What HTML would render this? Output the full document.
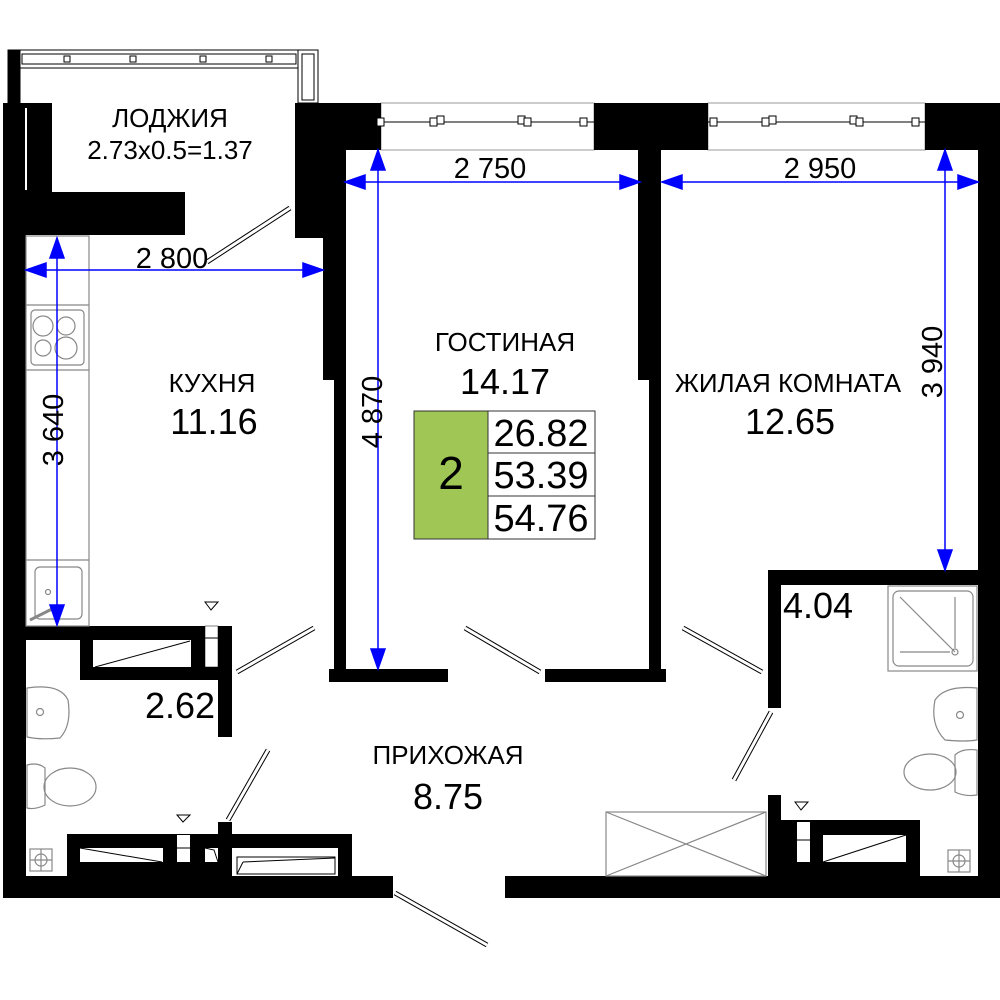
<!DOCTYPE html>
<html><head><meta charset="utf-8"><style>
html,body{margin:0;padding:0;background:#fff;}
svg{display:block;}
text{font-family:"Liberation Sans",sans-serif;fill:#000;}
</style></head><body>
<svg width="1000" height="1000" viewBox="0 0 1000 1000" xmlns="http://www.w3.org/2000/svg">
<rect width="1000" height="1000" fill="#fff"/>
<g fill="#fff" stroke="#000" stroke-width="1">
<rect x="8" y="50" width="12" height="54" fill="#000"/>
<rect x="20" y="50" width="298" height="18"/>
<rect x="22" y="54" width="274" height="10"/>
<rect x="298" y="50" width="20" height="53"/>
<rect x="302" y="54" width="12" height="46"/>
</g>
<g fill="#fff" stroke="#000" stroke-width="1">
<rect x="64" y="56" width="6" height="6"/><rect x="130" y="56" width="6" height="6"/><rect x="200" y="56" width="6" height="6"/><rect x="266" y="56" width="6" height="6"/>
</g>
<rect x="381" y="103" width="213" height="47" fill="#fff" stroke="#999" stroke-width="1"/>
<rect x="708" y="103" width="217" height="47" fill="#fff" stroke="#999" stroke-width="1"/>
<g fill="#000">
<rect x="3" y="103" width="49" height="92"/>
<rect x="3" y="192" width="182" height="43"/>
<rect x="3" y="192" width="23" height="706"/>
<rect x="295" y="103" width="86" height="47"/>
<rect x="594" y="103" width="114" height="47"/>
<rect x="925" y="103" width="75" height="47"/>
<rect x="295" y="103" width="51" height="135"/>
<rect x="323" y="103" width="23" height="277"/>
<rect x="334" y="103" width="12" height="579"/>
<rect x="329" y="669" width="119" height="13"/>
<rect x="545" y="669" width="121" height="13"/>
<rect x="638" y="150" width="23" height="230"/>
<rect x="649" y="150" width="12" height="532"/>
<rect x="978" y="103" width="22" height="795"/>
<rect x="768" y="570" width="220" height="15"/>
<rect x="768" y="570" width="13" height="138"/>
<rect x="768" y="795" width="13" height="100"/>
<rect x="505" y="876" width="495" height="22"/>
<rect x="781" y="820" width="139" height="60"/>
<rect x="3" y="876" width="390" height="22"/>
<rect x="67" y="834" width="285" height="45"/>
<rect x="218" y="822" width="14" height="14"/>
<rect x="25" y="626" width="207" height="14"/>
<rect x="80" y="626" width="152" height="54"/>
<rect x="218" y="626" width="14" height="111"/>
</g>
<g fill="#fff">
<rect x="25" y="108" width="2" height="82"/>
<rect x="93" y="640" width="98" height="27"/>
<rect x="205" y="626" width="13" height="41" stroke="#000" stroke-width="0.5"/>
<line x1="205" y1="638" x2="218" y2="638" stroke="#000"/>
<rect x="80" y="848" width="83" height="14"/>
<rect x="177" y="835" width="13" height="27"/>
<rect x="205" y="848" width="13" height="14"/>
<rect x="232" y="848" width="106" height="28"/>
<rect x="797" y="822" width="13" height="40"/>
<rect x="823" y="835" width="83" height="27"/>
</g>
<g stroke="#000" stroke-width="1" fill="none">
<line x1="95" y1="667" x2="190" y2="641"/>
<line x1="80" y1="848" x2="162" y2="862"/>
<line x1="177" y1="848" x2="190" y2="848"/>
<path d="M205 848 L214 850 L218 862"/>
<rect x="237" y="857" width="98" height="17"/>
<line x1="237" y1="874" x2="243" y2="862"/><line x1="243" y1="862" x2="335" y2="858"/>
<line x1="797" y1="840" x2="810" y2="840"/>
<line x1="823" y1="862" x2="906" y2="835"/>
<path d="M205 602 L218 602 L211 610 Z"/>
<path d="M177 815 L190 815 L183 822 Z"/>
<path d="M795 802 L808 802 L801 810 Z"/>
</g>
<g stroke="#000" stroke-width="1" fill="#fff">
<line x1="377" y1="122" x2="596" y2="122"/>
<line x1="707" y1="122" x2="927" y2="122"/>
<rect x="377" y="118" width="7" height="8"/><rect x="430" y="118" width="7" height="8"/><rect x="437" y="116" width="7" height="8"/><rect x="518" y="116" width="7" height="8"/><rect x="524" y="118" width="7" height="8"/><rect x="580" y="118" width="7" height="8"/>
<rect x="710" y="118" width="7" height="8"/><rect x="762" y="118" width="7" height="8"/><rect x="769" y="116" width="7" height="8"/><rect x="850" y="116" width="7" height="8"/><rect x="856" y="118" width="7" height="8"/><rect x="912" y="118" width="7" height="8"/>
</g>
<g stroke="#000" stroke-width="5" stroke-linecap="butt">
<line x1="290" y1="208" x2="207" y2="262"/>
<line x1="237" y1="672" x2="314" y2="628"/>
<line x1="228" y1="820" x2="268" y2="750"/>
<line x1="540" y1="672" x2="465" y2="628"/>
<line x1="762" y1="672" x2="683" y2="628"/>
<line x1="771" y1="712" x2="734" y2="780"/>
<line x1="395" y1="893" x2="487" y2="945"/>
</g>
<g stroke="#fff" stroke-width="3">
<line x1="290" y1="208" x2="207" y2="262"/>
<line x1="237" y1="672" x2="314" y2="628"/>
<line x1="228" y1="820" x2="268" y2="750"/>
<line x1="540" y1="672" x2="465" y2="628"/>
<line x1="762" y1="672" x2="683" y2="628"/>
<line x1="771" y1="712" x2="734" y2="780"/>
<line x1="395" y1="893" x2="487" y2="945"/>
</g>
<g stroke="#888" stroke-width="1.2" fill="none">
<rect x="26" y="236" width="63" height="390"/>
<line x1="26" y1="305" x2="89" y2="305"/><line x1="26" y1="370" x2="89" y2="370"/><line x1="26" y1="560" x2="89" y2="560"/>
<rect x="31" y="310" width="53" height="55" rx="4"/>
<circle cx="43" cy="326" r="10"/><circle cx="66" cy="326" r="9"/><circle cx="43" cy="348" r="8"/><circle cx="66" cy="348" r="11"/>
<rect x="35" y="567" width="47" height="52" rx="5"/>
<circle cx="48" cy="592" r="2.5"/>
<line x1="30" y1="620" x2="52" y2="609" stroke-width="3"/>
<path d="M27 688 Q60 683 68 700 Q72 725 60 738 Q40 740 27 737 Z"/>
<circle cx="40" cy="712" r="3.5"/>
<path d="M27 765 Q38 762 45 768 L45 805 Q35 810 27 808 Z"/>
<ellipse cx="70" cy="787" rx="26" ry="19"/>
<rect x="30" y="849" width="22" height="22"/><circle cx="41" cy="860" r="6"/><line x1="30" y1="860" x2="52" y2="860"/><line x1="41" y1="849" x2="41" y2="871"/>
<rect x="888" y="586" width="89" height="85"/>
<rect x="893" y="591" width="80" height="75" rx="6"/>
<line x1="900" y1="597" x2="955" y2="652"/><line x1="955" y1="597" x2="955" y2="648"/><line x1="900" y1="652" x2="950" y2="652"/><circle cx="955" cy="652" r="3"/>
<path d="M977 688 Q945 685 935 700 Q930 725 945 740 Q965 742 977 740 Z"/>
<circle cx="960" cy="715" r="3.5"/>
<path d="M977 750 Q962 748 955 755 L955 792 Q965 797 977 795 Z"/>
<ellipse cx="930" cy="772" rx="26" ry="18"/>
<rect x="948" y="850" width="22" height="22"/><circle cx="959" cy="861" r="6"/><line x1="948" y1="861" x2="970" y2="861"/><line x1="959" y1="850" x2="959" y2="872"/>
<rect x="606" y="812" width="160" height="64"/>
<line x1="606" y1="812" x2="766" y2="876"/><line x1="606" y1="876" x2="766" y2="812"/>
</g>
<g stroke="#0000ff" stroke-width="1.5" fill="#0000ff">
<line x1="26" y1="270" x2="323" y2="270"/>
<path d="M26 270 L46 263 L46 277 Z"/><path d="M323 270 L303 263 L303 277 Z"/>
<line x1="57" y1="238" x2="57" y2="625"/>
<path d="M57 238 L50 258 L64 258 Z"/><path d="M57 625 L50 605 L64 605 Z"/>
<line x1="345" y1="182" x2="640" y2="182"/>
<path d="M345 182 L365 175 L365 189 Z"/><path d="M640 182 L620 175 L620 189 Z"/>
<line x1="378" y1="150" x2="378" y2="669"/>
<path d="M378 150 L371 170 L385 170 Z"/><path d="M378 669 L371 649 L385 649 Z"/>
<line x1="662" y1="182" x2="978" y2="182"/>
<path d="M662 182 L682 175 L682 189 Z"/><path d="M978 182 L958 175 L958 189 Z"/>
<line x1="945" y1="150" x2="945" y2="570"/>
<path d="M945 150 L938 170 L952 170 Z"/><path d="M945 570 L938 550 L952 550 Z"/>
</g>
<g font-size="29" text-anchor="middle">
<text x="172" y="268">2 800</text>
<text x="490" y="178">2 750</text>
<text x="820" y="178">2 950</text>
<text transform="translate(63,430) rotate(-90)">3 640</text>
<text transform="translate(382,412) rotate(-90)">4 870</text>
<text transform="translate(942,362) rotate(-90)">3 940</text>
</g>
<g text-anchor="middle">
<text x="170" y="127" font-size="26">ЛОДЖИЯ</text>
<text x="170" y="159" font-size="26">2.73x0.5=1.37</text>
<text x="212" y="392" font-size="26">КУХНЯ</text>
<text x="214" y="434" font-size="36">11.16</text>
<text x="505" y="351" font-size="26">ГОСТИНАЯ</text>
<text x="505" y="394" font-size="36">14.17</text>
<text x="788" y="392" font-size="26">ЖИЛАЯ КОМНАТА</text>
<text x="790" y="434" font-size="36">12.65</text>
<text x="448" y="764" font-size="26">ПРИХОЖАЯ</text>
<text x="448" y="809" font-size="36">8.75</text>
<text x="180" y="718" font-size="36">2.62</text>
<text x="818" y="618" font-size="36">4.04</text>
</g>
<rect x="414" y="411" width="74" height="128" fill="#a0c655" stroke="#333" stroke-width="1"/>
<rect x="488" y="411" width="107" height="42" fill="#fff" stroke="#333" stroke-width="1"/>
<rect x="488" y="453" width="107" height="43" fill="#fff" stroke="#333" stroke-width="1"/>
<rect x="488" y="496" width="107" height="43" fill="#fff" stroke="#333" stroke-width="1"/>
<g text-anchor="middle" font-size="38">
<text x="451" y="489" font-size="46">2</text>
<text x="541" y="446">26.82</text>
<text x="541" y="488">53.39</text>
<text x="541" y="531">54.76</text>
</g>
</svg>
</body></html>
